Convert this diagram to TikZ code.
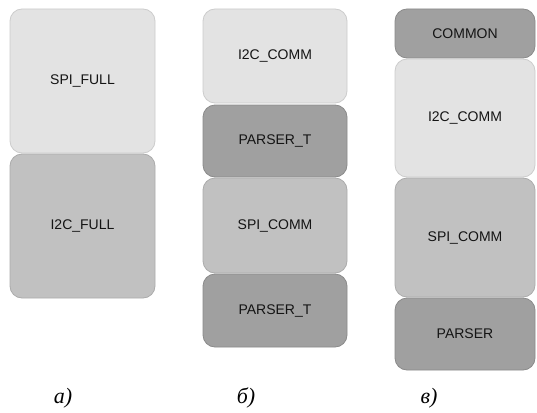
\documentclass[tikz,border=0pt]{standalone}
\usepackage{fontspec}
\setmainfont{Liberation Serif}
\newfontfamily\boxfont{Liberation Sans}
\newfontfamily\capfont{Liberation Serif}
\definecolor{lightfill}{HTML}{E3E3E3}
\definecolor{lightedge}{HTML}{CCCCCC}
\definecolor{midfill}{HTML}{C1C1C1}
\definecolor{midedge}{HTML}{ABABAB}
\definecolor{darkfill}{HTML}{A0A0A0}
\definecolor{darkedge}{HTML}{8A8A8A}
\definecolor{textgray}{HTML}{141414}
\tikzset{
  blk/.style={rectangle, rounded corners=12pt, line width=0.8pt, inner sep=0pt,
    font=\boxfont\fontsize{14}{16}\selectfont, text=textgray},
  lightblk/.style={blk, fill=lightfill, draw=lightedge},
  midblk/.style={blk, fill=midfill, draw=midedge},
  darkblk/.style={blk, fill=darkfill, draw=darkedge},
  caption/.style={font=\capfont\itshape\fontsize{22}{24}\selectfont, text=black}
}
\begin{document}
\begin{tikzpicture}[x=1pt,y=-1pt]
\useasboundingbox[fill=white] (0,0) rectangle (537,412);
% column a
\node[lightblk, minimum width=145, minimum height=144] (spifull) at (82.5,81) {SPI\_FULL};
\node[midblk, minimum width=145, minimum height=144] (i2cfull) at (82.5,226) {I2C\_FULL};
% column b
\node[lightblk, minimum width=144, minimum height=94] (bi2c) at (275,56) {I2C\_COMM};
\node[darkblk, minimum width=144, minimum height=72] (bparser1) at (275,141) {PARSER\_T};
\node[midblk, minimum width=144, minimum height=95] (bspi) at (275,225.5) {SPI\_COMM};
\node[darkblk, minimum width=144, minimum height=73] (bparser2) at (275,310.5) {PARSER\_T};
% column c
\node[darkblk, minimum width=140, minimum height=49] (ccommon) at (465,33.5) {COMMON};
\node[lightblk, minimum width=140, minimum height=118] (ci2c) at (465,118) {I2C\_COMM};
\node[midblk, minimum width=140, minimum height=119] (cspi) at (465,237.5) {SPI\_COMM};
\node[darkblk, minimum width=140, minimum height=72] (cparser) at (465,334) {PARSER};
% captions
\node[caption] (capa) at (63,398) {а)};
\node[caption] (capb) at (246,398) {б)};
\node[caption] (capc) at (429,398) {в)};
\end{tikzpicture}
\end{document}
